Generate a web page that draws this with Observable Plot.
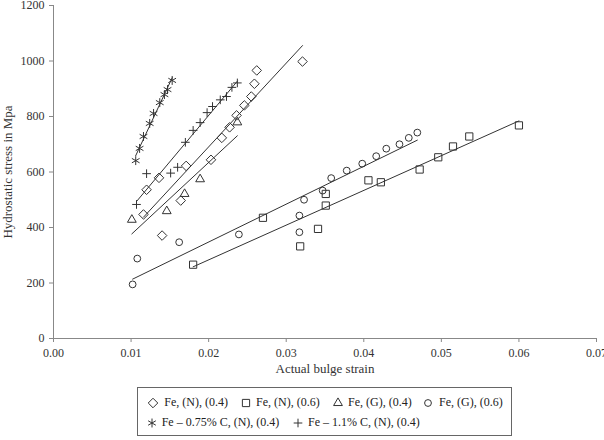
<!DOCTYPE html>
<html><head><meta charset="utf-8">
<script src="https://cdn.jsdelivr.net/npm/d3@7"></script>
<script src="https://cdn.jsdelivr.net/npm/@observablehq/plot@0.6"></script>
<style>
body{margin:0;background:#fff;font-family:"Liberation Serif",serif;}
#chart{position:absolute;left:0;top:0;}
#legend{position:absolute;left:137px;top:387px;width:373px;height:47px;border:1px solid #666;background:#fff;}
.lt{position:absolute;font-size:12px;color:#222;white-space:nowrap;line-height:14px;}
.ls{position:absolute;}
</style></head><body>
<div id="chart"></div><div id="legend"></div>
<script>
// ---- data ----
const seriesNames = ["Fe, (N), (0.4)", "Fe, (N), (0.6)", "Fe, (G), (0.4)", "Fe, (G), (0.6)", "Fe \u2013 0.75% C, (N), (0.4)", "Fe \u2013 1.1% C, (N), (0.4)"];
const feN04X = [0.0116, 0.0120, 0.0136, 0.0140, 0.0164, 0.0171, 0.0203, 0.0217, 0.0227, 0.0236, 0.0246, 0.0255, 0.0259, 0.0262, 0.0321];
const feN04Y = [447, 536, 579, 371, 497, 622, 644, 723, 761, 804, 840, 872, 918, 966, 998];
const feN06X = [0.0180, 0.0270, 0.0318, 0.0341, 0.0351, 0.0351, 0.0406, 0.0422, 0.0472, 0.0496, 0.0515, 0.0536, 0.0600];
const feN06Y = [266, 435, 332, 395, 479, 521, 570, 563, 609, 653, 692, 728, 768];
const feG04X = [0.0101, 0.0146, 0.0169, 0.0189, 0.0237];
const feG04Y = [428, 459, 521, 574, 779];
const feG06X = [0.0102, 0.0108, 0.0162, 0.0239, 0.0317, 0.0317, 0.0323, 0.0347, 0.0358, 0.0378, 0.0398, 0.0416, 0.0429, 0.0446, 0.0458, 0.0469];
const feG06Y = [195, 288, 347, 375, 383, 443, 500, 533, 578, 605, 630, 657, 684, 700, 723, 742];
const feC075X = [0.0106, 0.0111, 0.0116, 0.0124, 0.0129, 0.0137, 0.0143, 0.0147, 0.0153];
const feC075Y = [641, 685, 728, 775, 811, 850, 879, 897, 930];
const feC11X = [0.0107, 0.0120, 0.0151, 0.0160, 0.0170, 0.0180, 0.0189, 0.0198, 0.0205, 0.0215, 0.0223, 0.0230, 0.0237];
const feC11Y = [483, 594, 596, 617, 707, 750, 778, 814, 836, 860, 872, 905, 921];
const xTicks = [0, 0.01, 0.02, 0.03, 0.04, 0.05, 0.06, 0.07];
const yTicks = [0, 200, 400, 600, 800, 1000, 1200];

// ---- build ----
const seriesX = [feN04X, feN06X, feG04X, feG06X, feC075X, feC11X];
const seriesY = [feN04Y, feN06Y, feG04Y, feG06Y, feC075Y, feC11Y];
const symbols = ["diamond2", "square2", "triangle2", "circle", "asterisk", "plus"];
const d3symbols = [d3.symbolDiamond2, d3.symbolSquare2, d3.symbolTriangle2, d3.symbolCircle, d3.symbolAsterisk, d3.symbolPlus];
const radii = [4.3, 4.6, 4.2, 3.4, 4.2, 2.9];
const ink = "#333";

const series = seriesNames.map((name, i) => seriesX[i].map((x, j) => ({series: name, x, y: seriesY[i][j]})));

const marks = [
  Plot.axisX({ticks: xTicks, tickFormat: d3.format(".2f"), tickSize: 4, tickPadding: 6, stroke: "#888", color: "#333", fontSize: 12, label: null}),
  Plot.axisX({ticks: [], label: "Actual bulge strain", labelAnchor: "center", labelArrow: "none", labelOffset: 34, fontSize: 13, color: "#333"}),
  Plot.axisY({ticks: yTicks, tickFormat: d3.format("d"), tickSize: 4, tickPadding: 5, stroke: "#888", color: "#333", fontSize: 12, label: null}),
  Plot.axisY({ticks: [], label: "Hydrostatic stress in Mpa", labelAnchor: "center", labelArrow: "none", labelOffset: 51, fontSize: 13, color: "#333"}),
  Plot.ruleX([0], {stroke: "#888"}),
  Plot.ruleY([0], {stroke: "#888"})
];
series.forEach((data, i) => {
  marks.push(Plot.linearRegressionY(data, {x: "x", y: "y", ci: 0, stroke: ink, strokeWidth: 1}));
  marks.push(Plot.dot(data, {x: "x", y: "y", symbol: () => symbols[i], r: radii[i], stroke: ink, strokeWidth: 1, fill: "none"}));
});

const chart = Plot.plot({
  width: 604, height: 382,
  marginLeft: 53, marginRight: 8, marginTop: 5, marginBottom: 44,
  style: {fontFamily: "Liberation Serif", fontSize: "12px", background: "white", color: "#333"},
  x: {domain: [0, 0.07]},
  y: {domain: [0, 1200]},
  symbol: {type: "identity"},
  marks
});
document.getElementById("chart").append(chart);

// ---- legend ----
const legend = document.getElementById("legend");
const legendPos = [[14.7, 26.3, 15], [108, 118, 15], [199.7, 210, 15], [290.3, 301, 15], [14, 23.7, 35], [159.7, 170, 35]];
seriesNames.forEach((name, i) => {
  const [sx, tx, cy] = legendPos[i];
  const r = radii[i];
  const size = Math.PI * r * r;
  const svg = d3.create("svg").attr("class", "ls").attr("width", 14).attr("height", 14)
    .style("left", (sx - 7) + "px").style("top", (cy - 7) + "px");
  svg.append("path").attr("transform", "translate(7,7)").attr("d", d3.symbol(d3symbols[i], size)())
    .attr("fill", "none").attr("stroke", ink).attr("stroke-width", 1);
  legend.append(svg.node());
  const t = document.createElement("div");
  t.className = "lt";
  t.style.left = tx + "px";
  t.style.top = (cy - 8) + "px";
  t.textContent = name;
  legend.append(t);
});
</script>
</body></html>
